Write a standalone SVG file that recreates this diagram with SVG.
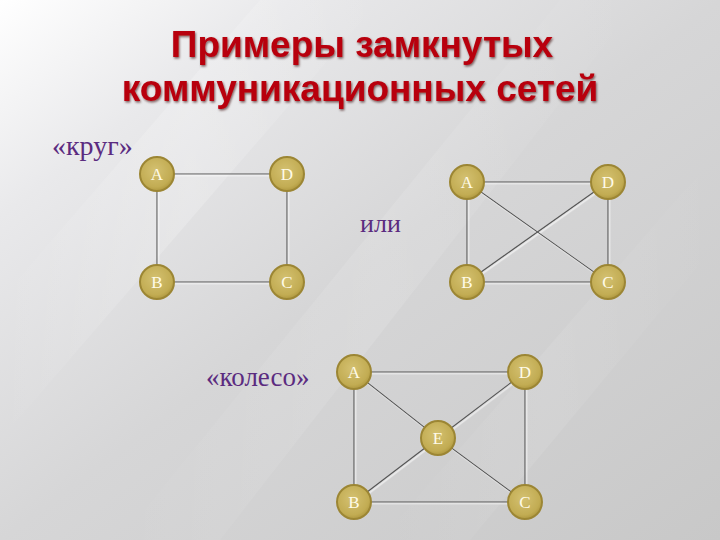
<svg xmlns="http://www.w3.org/2000/svg" width="720" height="540" viewBox="0 0 720 540">
  <defs>
    <linearGradient id="bg" x1="0" y1="0" x2="1" y2="1">
      <stop offset="0" stop-color="#ffffff"/>
      <stop offset="0.2" stop-color="#e9e9eb"/>
      <stop offset="0.5" stop-color="#d6d6d7"/>
      <stop offset="1" stop-color="#c8c8c8"/>
    </linearGradient>
    <linearGradient id="streak" x1="0" y1="0" x2="1" y2="0">
      <stop offset="0" stop-color="#ffffff" stop-opacity="0"/>
      <stop offset="0.5" stop-color="#ffffff" stop-opacity="0.35"/>
      <stop offset="1" stop-color="#ffffff" stop-opacity="0"/>
    </linearGradient>
    <radialGradient id="gold" cx="0.45" cy="0.4" r="0.6">
      <stop offset="0" stop-color="#d4c171"/>
      <stop offset="0.8" stop-color="#c2ac53"/>
      <stop offset="1" stop-color="#b09940"/>
    </radialGradient>
    <filter id="tshadow" x="-10%" y="-20%" width="120%" height="140%">
      <feDropShadow dx="1" dy="1.5" stdDeviation="0.8" flood-color="#300000" flood-opacity="0.6"/>
    </filter>
    <filter id="lshadow" x="-5%" y="-5%" width="110%" height="110%">
      <feDropShadow dx="1.5" dy="1.5" stdDeviation="0.3" flood-color="#ffffff" flood-opacity="0.8"/>
    </filter>
  </defs>
  <style>
    .title { font-family: "Liberation Sans", Arial, sans-serif; font-weight: bold; font-size: 37px; fill: #b8000c; text-anchor: middle; }
    .lbl { font-family: "Liberation Serif", "Times New Roman", serif; font-size: 27px; fill: #5b2b80; }
    .node circle { fill: url(#gold); stroke: #9c8634; stroke-width: 2; }
    .node text { font-family: "Liberation Serif", "Times New Roman", serif; font-size: 17px; fill: #fffbe8; text-anchor: middle; }
    .edge { stroke: #555555; stroke-width: 1.1; fill: none; }
  </style>

  <!-- background -->
  <rect x="0" y="0" width="720" height="540" fill="url(#bg)"/>
  <polygon points="0,300 260,0 380,0 0,440" fill="url(#streak)" opacity="0.6"/>
  <polygon points="120,540 560,0 640,0 220,540" fill="url(#streak)" opacity="0.35"/>
  <polygon points="380,540 720,150 720,240 470,540" fill="url(#streak)" opacity="0.25"/>

  <!-- title -->
  <g id="title" filter="url(#tshadow)">
    <text class="title" x="362" y="57">Примеры замкнутых</text>
    <text class="title" x="360" y="101">коммуникационных сетей</text>
  </g>

  <!-- labels -->
  <text id="lbl-krug" class="lbl" x="52" y="155" style="font-size:28px">«круг»</text>
  <text id="lbl-ili" class="lbl" x="360" y="232" style="font-size:26px">или</text>
  <text id="lbl-koleso" class="lbl" x="206" y="386">«колесо»</text>

  <!-- connectors -->
  <g id="connectors" filter="url(#lshadow)">
    <line class="edge" x1="157" y1="174" x2="287" y2="174"/>
    <line class="edge" x1="157" y1="174" x2="157" y2="282"/>
    <line class="edge" x1="287" y1="174" x2="287" y2="282"/>
    <line class="edge" x1="157" y1="282" x2="287" y2="282"/>
    <line class="edge" x1="467" y1="182" x2="608" y2="182"/>
    <line class="edge" x1="467" y1="182" x2="467" y2="282"/>
    <line class="edge" x1="608" y1="182" x2="608" y2="282"/>
    <line class="edge" x1="467" y1="282" x2="608" y2="282"/>
    <line class="edge" x1="467" y1="182" x2="608" y2="282"/>
    <line class="edge" x1="467" y1="282" x2="608" y2="182"/>
    <line class="edge" x1="354" y1="372" x2="525" y2="372"/>
    <line class="edge" x1="354" y1="372" x2="354" y2="502"/>
    <line class="edge" x1="525" y1="372" x2="525" y2="502"/>
    <line class="edge" x1="354" y1="502" x2="525" y2="502"/>
    <line class="edge" x1="354" y1="372" x2="438" y2="438"/>
    <line class="edge" x1="525" y1="372" x2="438" y2="438"/>
    <line class="edge" x1="354" y1="502" x2="438" y2="438"/>
    <line class="edge" x1="525" y1="502" x2="438" y2="438"/>
  </g>

  <g id="k-A" class="node"><circle cx="157" cy="174" r="17"/><text x="157" y="180">A</text></g>
  <g id="k-D" class="node"><circle cx="287" cy="174" r="17"/><text x="287" y="180">D</text></g>
  <g id="k-B" class="node"><circle cx="157" cy="282" r="17"/><text x="157" y="288">B</text></g>
  <g id="k-C" class="node"><circle cx="287" cy="282" r="17"/><text x="287" y="288">C</text></g>

  <g id="f-A" class="node"><circle cx="467" cy="182" r="17"/><text x="467" y="188">A</text></g>
  <g id="f-D" class="node"><circle cx="608" cy="182" r="17"/><text x="608" y="188">D</text></g>
  <g id="f-B" class="node"><circle cx="467" cy="282" r="17"/><text x="467" y="288">B</text></g>
  <g id="f-C" class="node"><circle cx="608" cy="282" r="17"/><text x="608" y="288">C</text></g>

  <g id="w-A" class="node"><circle cx="354" cy="372" r="17"/><text x="354" y="378">A</text></g>
  <g id="w-D" class="node"><circle cx="525" cy="372" r="17"/><text x="525" y="378">D</text></g>
  <g id="w-E" class="node"><circle cx="438" cy="438" r="17"/><text x="438" y="444">E</text></g>
  <g id="w-B" class="node"><circle cx="354" cy="502" r="17"/><text x="354" y="508">B</text></g>
  <g id="w-C" class="node"><circle cx="525" cy="502" r="17"/><text x="525" y="508">C</text></g>
</svg>
